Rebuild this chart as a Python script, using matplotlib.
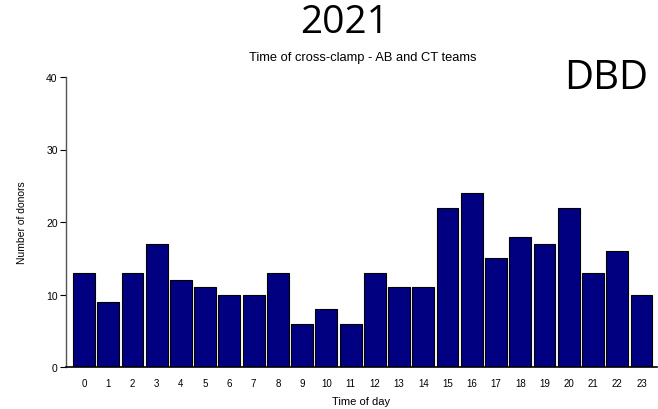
import numpy as np
import matplotlib
matplotlib.use("Agg")
import matplotlib.pyplot as plt

hours = list(range(24))
donors = [13, 9, 13, 17, 12, 11, 10, 10, 13, 6, 8, 6, 13, 11, 11, 22, 24, 15, 18, 17, 22, 13, 16, 10]
yticks = [0, 10, 20, 30, 40]

plt.rcParams['font.family'] = ['Liberation Sans', 'DejaVu Sans']

fig = plt.figure(figsize=(6.58, 4.10), dpi=100)
ax = fig.add_axes([66 / 658, 1 - 368 / 410, 591 / 658, 290 / 410])

ax.bar(hours, donors, width=0.9, color='#000080', edgecolor='black', linewidth=0.8)

ax.set_xlim(-0.74, 23.64)
ax.set_ylim(0, 40)
ax.set_yticks(yticks)
ax.set_xticks(hours)
ax.tick_params(axis='x', length=0, labelsize=7, pad=8)
ax.tick_params(axis='y', length=4, width=0.8, labelsize=7.5, pad=2)

for s in ['top', 'right']:
    ax.spines[s].set_visible(False)
ax.spines['left'].set_color('#555555')
ax.spines['bottom'].set_color('black')
ax.spines['bottom'].set_linewidth(1.2)
ax.spines['left'].set_linewidth(1.0)

ax.set_xlabel('Time of day', fontsize=8, labelpad=6)
ax.set_ylabel('Number of donors', fontsize=7.5, labelpad=14)

fig.text(345 / 658, 1 - 23 / 410, '2021', fontsize=28, family=['Open Sans', 'DejaVu Sans'],
         ha='center', va='center')
fig.text(363 / 658, 1 - 58 / 410, 'Time of cross-clamp - AB and CT teams', fontsize=9.3,
         ha='center', va='center')
fig.text(606 / 658, 1 - 79 / 410, 'DBD', fontsize=29, family=['Open Sans', 'DejaVu Sans'],
         ha='center', va='center')

fig.savefig('out.png', dpi=100)
